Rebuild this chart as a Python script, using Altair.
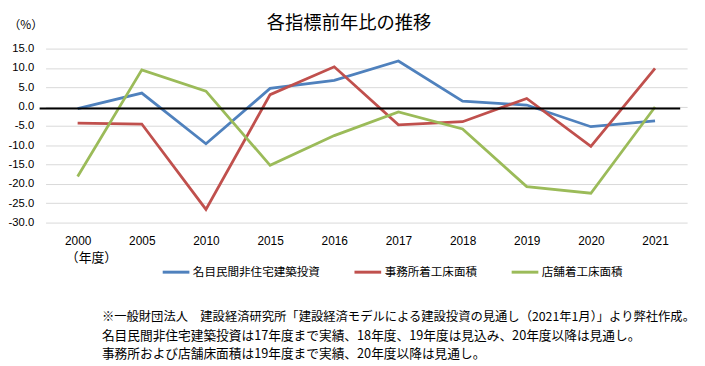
import altair as alt
import pandas as pd

years = ["2000", "2005", "2010", "2015", "2016", "2017", "2018", "2019", "2020", "2021"]
series_names = ["名目民間非住宅建築投資", "事務所着工床面積", "店舗着工床面積"]
investment = [-0.5, 3.5, -9.6, 4.7, 6.8, 11.8, 1.4, 0.4, -5.2, -3.7]
office = [-4.3, -4.5, -26.6, 3.1, 10.3, -4.7, -3.9, 2.1, -10.3, 9.9]
store = [-18.1, 9.5, 4.0, -15.2, -7.5, -1.4, -5.8, -20.7, -22.4, -0.1]
colors = ["#4F81BD", "#C0504D", "#9BBB59"]
y_ticks = [15, 10, 5, 0, -5, -10, -15, -20, -25, -30]

title_text = "各指標前年比の推移"
notes = [
    "※一般財団法人　建設経済研究所「建設経済モデルによる建設投資の見通し（2021年1月）」より弊社作成。",
    "名目民間非住宅建築投資は17年度まで実績、18年度、19年度は見込み、20年度以降は見通し。",
    "事務所および店舗床面積は19年度まで実績、20年度以降は見通し。",
]

rows = []
for k, (name, vals) in enumerate(zip(series_names, [investment, office, store])):
    for yr, v in zip(years, vals):
        rows.append({"year": yr, "value": v, "series": name, "series_order": k})
df = pd.DataFrame(rows)

JP = "Noto Sans CJK JP"
NUM = "Liberation Sans"
W, H = 649, 176

xscale = alt.Scale(type="point", domain=years, padding=0.5)
yscale = alt.Scale(domain=[-30, 15], nice=False, zero=False)

yaxis = alt.Axis(values=y_ticks, tickCount=10, title="（%）", titleFont=JP, titleFontSize=12,
                 titleFontWeight="normal", titleColor="#000", titleAngle=0,
                 titleX=-38, titleY=-24, titleAlign="left", titleBaseline="middle",
                 labelExpr="replace(format(datum.value, '.1f'), '\u2212', '-')",
                 labelOverlap=False,
                 labelFont=NUM, labelFontSize=11.4, labelColor="#000", labelPadding=12,
                 ticks=False, domain=False, grid=True, gridColor="#D9D9D9", gridWidth=1)

lines = alt.Chart(df).mark_line(strokeWidth=2.8, strokeJoin="miter").encode(
    x=alt.X("year:O", scale=xscale, sort=years,
            axis=alt.Axis(title="（年度）", titleFont=JP, titleFontSize=13, titleFontWeight="normal",
                          titleColor="#000", titleX=20, titleY=35, titleAlign="left",
                          titleBaseline="middle",
                          labelFont=NUM, labelFontSize=12, labelColor="#000", labelAngle=0,
                          labelPadding=13, ticks=False, domain=False, grid=False)),
    y=alt.Y("value:Q", scale=yscale, axis=yaxis),
    color=alt.Color("series:N", scale=alt.Scale(domain=series_names, range=colors),
                    sort=series_names,
                    legend=alt.Legend(title=None, orient="none", legendX=117, legendY=211,
                                      direction="horizontal", symbolType="stroke",
                                      symbolStrokeWidth=3, symbolSize=729, labelFont=JP,
                                      labelFontSize=11.7, labelColor="#000", labelOffset=2,
                                      columnPadding=28, padding=0)),
    order=alt.Order("series_order:Q"),
)

zero = alt.Chart(pd.DataFrame({"value": [-0.5]})).mark_rule(color="#000", strokeWidth=2).encode(
    y=alt.Y("value:Q", scale=yscale, axis=yaxis), x=alt.value(-6), x2=alt.value(642)
)

layers = [lines, zero]

title = alt.Chart(pd.DataFrame({"t": [title_text]})).mark_text(
    font=JP, fontSize=18.5, color="#000", align="center", baseline="middle"
).encode(text="t:N", x=alt.value(307), y=alt.value(-26))
layers.append(title)

note_x = [57, 57, 57]
note_y = [272, 291, 309]
note_size = [12.45, 12.85, 12.85]
for t, nx, ny, fs in zip(notes, note_x, note_y, note_size):
    layers.append(
        alt.Chart(pd.DataFrame({"t": [t]})).mark_text(
            font=JP, fontSize=fs, color="#000", align="left", baseline="middle"
        ).encode(text="t:N", x=alt.value(nx), y=alt.value(ny))
    )

chart = alt.layer(*layers).properties(
    width=W, height=H,
    autosize=alt.AutoSizeParams(type="none"),
    padding={"left": 38, "top": 39, "right": 10, "bottom": 144},
    background="white",
).configure_view(stroke=None)

chart.save("out.html", embed_options={"renderer": "svg", "actions": False})
